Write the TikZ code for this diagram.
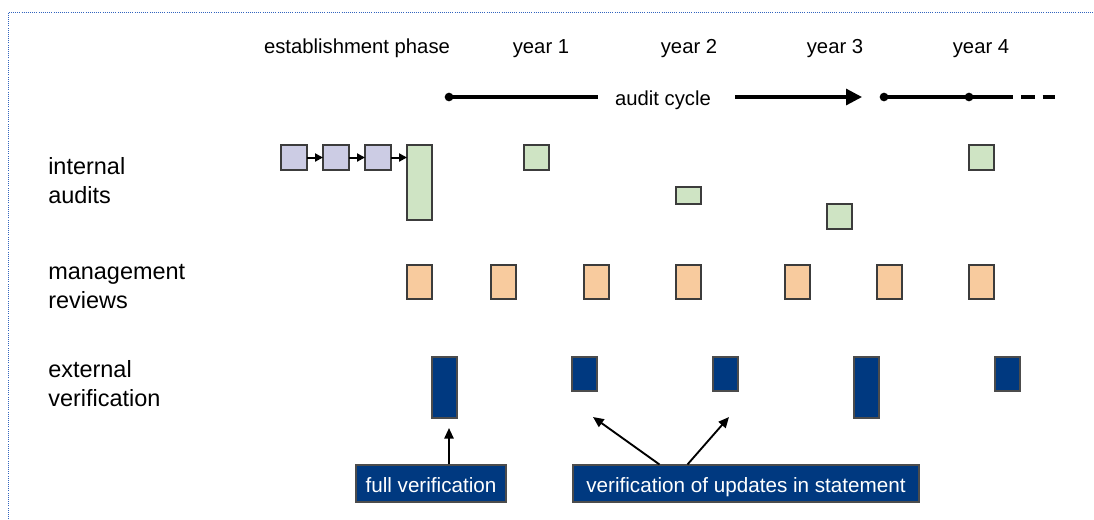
\documentclass[tikz,border=0pt]{standalone}
\usepackage{fontspec}
\setmainfont{Liberation Sans}
\usetikzlibrary{arrows.meta,calc}
\definecolor{lav}{RGB}{204,204,228}
\definecolor{grn}{RGB}{207,228,196}
\definecolor{org}{RGB}{248,203,158}
\definecolor{dblue}{RGB}{0,57,128}
\definecolor{edge}{RGB}{60,60,60}
\definecolor{frame}{RGB}{50,100,190}
\tikzset{
  box/.style={draw=edge, line width=0.8pt, inner sep=0pt, outer sep=0pt},
  lavbox/.style={box, fill=lav},
  grnbox/.style={box, fill=grn},
  orgbox/.style={box, fill=org},
  bluebox/.style={box, fill=dblue, draw=black!70},
  lbl/.style={font=\fontsize{17.6pt}{21.75pt}\selectfont, inner sep=0pt},
  head/.style={font=\fontsize{15.2pt}{18pt}\selectfont, inner sep=0pt},
  tag/.style={fill=dblue, draw=black!70, line width=0.8pt, text=white, font=\fontsize{15.5pt}{18pt}\selectfont, inner sep=0pt, text height=14pt, text depth=0pt},
  chain/.style={line width=1.5pt, -{Triangle[length=6pt,width=6pt]}},
  callout/.style={line width=1.4pt, -{Triangle[length=8pt,width=7pt]}},
  cycle/.style={line width=2.4pt},
  dotm/.style={circle, fill=black, inner sep=0pt, minimum size=6.5pt}
}
\newcommand\bx[6]{\node[#6, minimum width={(#4-#2)*0.75pt}, minimum height={(#5-#3)*0.75pt}] (#1) at ({(#2+#4)/2},{(#3+#5)/2}) {};}
\begin{document}
\begin{tikzpicture}[x=0.75pt,y=-0.75pt]
\useasboundingbox (0,0) rectangle (1094,519);
% frame
\draw[frame, line width=0.6pt, densely dotted] (8,519) -- (8,12) -- (1094,12);
% headings
\node[head] (est) at (357,48.5) {establishment phase};
\node[head] (y1) at (541,48.5) {year 1};
\node[head] (y2) at (689,48.5) {year 2};
\node[head] (y3) at (835,48.5) {year 3};
\node[head] (y4) at (981,48.5) {year 4};
% row labels
\node[lbl, anchor=west, align=left] (ia) at (48,181) {internal\\audits};
\node[lbl, anchor=west, align=left] (mr) at (48,287) {management\\reviews};
\node[lbl, anchor=west, align=left] (ev) at (48,384) {external\\verification};
% audit cycle
\node[dotm] (c0) at (449,97) {};
\coordinate (c1) at (598,97);
\node[head] (ac) at (663,100.5) {audit cycle};
\coordinate (c2) at (735,97);
\coordinate (c3) at (862,97);
\node[dotm] (d0) at (884,97) {};
\node[dotm] (d1) at (969,97) {};
\coordinate (d2) at (1000,97);
\coordinate (d3) at (1055,97);
\draw[cycle] (c0.center) -- (c1);
\draw[cycle, -{Triangle[length=12pt,width=12pt]}] (c2) -- (c3);
\draw[cycle] (d0.center) -- (d1.center) -- (d2);
\draw[cycle, dash pattern=on 10pt off 6pt] (d2) -- (d3);
% internal audits
\bx{p1}{281}{145}{307}{170}{lavbox}
\bx{p2}{323}{145}{349}{170}{lavbox}
\bx{p3}{365}{145}{391}{170}{lavbox}
\bx{g0}{407}{145}{432}{220}{grnbox}
\bx{g1}{524}{145}{549}{170}{grnbox}
\bx{g2}{676}{187}{701}{204}{grnbox}
\bx{g3}{827}{204}{852}{229}{grnbox}
\bx{g4}{969}{145}{994}{170}{grnbox}
\draw[chain] (p1.east) -- (p2.west);
\draw[chain] (p2.east) -- (p3.west);
\draw[chain] (p3.east) -- (p3.east -| g0.west);
% management reviews
\bx{m1}{407}{265}{432}{299}{orgbox}
\bx{m2}{491}{265}{516}{299}{orgbox}
\bx{m3}{584}{265}{609}{299}{orgbox}
\bx{m4}{676}{265}{701}{299}{orgbox}
\bx{m5}{785}{265}{810}{299}{orgbox}
\bx{m6}{877}{265}{902}{299}{orgbox}
\bx{m7}{969}{265}{994}{299}{orgbox}
% external verification
\bx{e1}{432}{357}{457}{418}{bluebox}
\bx{e2}{572}{357}{597}{391}{bluebox}
\bx{e3}{713}{357}{738}{391}{bluebox}
\bx{e4}{854}{357}{879}{418}{bluebox}
\bx{e5}{995}{357}{1020}{391}{bluebox}
% tags
\node[tag, minimum width={150*0.75pt}, minimum height={37*0.75pt}] (fv) at (431,483.5) {full verification};
\node[tag, minimum width={346*0.75pt}, minimum height={37*0.75pt}] (uv) at (746,483.5) {verification of updates in statement};
\coordinate (t1) at (449,428);
\coordinate (t2) at (593,417);
\coordinate (t3) at (729,417);
\draw[callout] (fv.north -| t1) -- (t1);
\draw[callout] ($(uv.north west)+(87,0)$) -- (t2);
\draw[callout] ($(uv.north west)+(115,0)$) -- (t3);
\end{tikzpicture}
\end{document}
